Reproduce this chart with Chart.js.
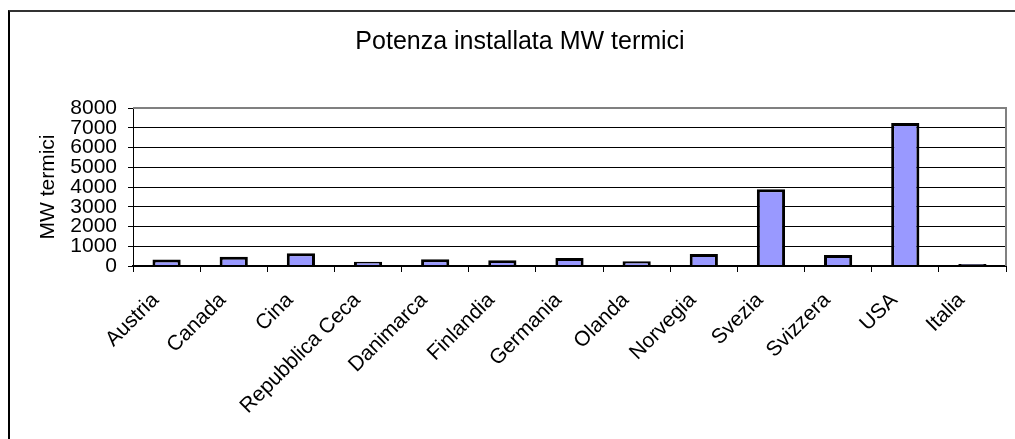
<!DOCTYPE html>
<html>
<head>
<meta charset="utf-8">
<script src="https://cdn.jsdelivr.net/npm/chart.js@4"></script>
<style>
    html, body { margin: 0; padding: 0; background: #fff; overflow: hidden; }
    #frame {
        position: absolute; left: 8px; top: 10px;
        width: 1200px; height: 600px;
        border-left: 2px solid #000; border-top: 2px solid #333;
    }
    #wrap { position: absolute; left: 0; top: 0; width: 1015px; height: 439px; }
</style>
</head>
<body>
<div id="frame"></div>
<div id="wrap"><canvas id="chart" width="1015" height="439"></canvas></div>
<script>
// Chart data
const chartTitle = 'Potenza installata MW termici';
const countries = ['Austria', 'Canada', 'Cina', 'Repubblica Ceca', 'Danimarca', 'Finlandia',
    'Germania', 'Olanda', 'Norvegia', 'Svezia', 'Svizzera', 'USA', 'Italia'];
const mwTermici = [330, 470, 650, 220, 340, 290, 410, 240, 610, 3880, 560, 7240, 60];
const yTicks = [0, 1000, 2000, 3000, 4000, 5000, 6000, 7000, 8000];

const FONT = 'Arial, "Liberation Sans", sans-serif';

// Gray frame on top and right of the plot area, plus the chart title
const plotFrame = {
    id: 'plotFrame',
    afterDraw(chart) {
        const { ctx, chartArea: a } = chart;
        ctx.save();
        ctx.strokeStyle = '#808080';
        ctx.lineWidth = 2;
        ctx.beginPath();
        ctx.moveTo(a.left, a.top);
        ctx.lineTo(a.right, a.top);
        ctx.lineTo(a.right, a.bottom);
        ctx.stroke();

        ctx.fillStyle = '#000';
        ctx.font = '25px ' + FONT;
        ctx.textAlign = 'center';
        ctx.textBaseline = 'middle';
        ctx.fillText(chartTitle, 520, 42);
        ctx.restore();
    }
};

new Chart(document.getElementById('chart'), {
    type: 'bar',
    data: {
        labels: countries,
        datasets: [{
            label: 'MW termici',
            data: mwTermici,
            backgroundColor: '#9999FF',
            borderColor: '#000',
            borderWidth: 3,
            borderSkipped: 'bottom',
            categoryPercentage: 1,
            barPercentage: 0.42,
            minBarLength: 2
        }]
    },
    options: {
        responsive: false,
        animation: false,
        layout: { padding: { left: 0, right: 9, top: 108, bottom: 0 } },
        plugins: {
            legend: { display: false },
            tooltip: { enabled: false },
            title: { display: false }
        },
        scales: {
            x: {
                afterFit(scale) { scale.height = 173; },
                grid: {
                    drawOnChartArea: false,
                    offset: true,
                    tickLength: 6,
                    color: '#000'
                },
                border: { color: '#000', width: 2, z: 1 },
                ticks: {
                    color: '#000',
                    font: { family: FONT, size: 21 },
                    maxRotation: 45,
                    minRotation: 45,
                    autoSkip: false,
                    padding: 16,
                    labelOffset: -11
                }
            },
            y: {
                min: 0,
                max: 8000,
                afterFit(scale) { scale.width = 133; },
                afterBuildTicks(scale) { scale.ticks = yTicks.map(v => ({ value: v })); },
                grid: { color: '#000', tickLength: 5 },
                border: { color: '#000', width: 1 },
                ticks: {
                    color: '#000',
                    font: { family: FONT, size: 21, lineHeight: 1 },
                    padding: 11,
                    autoSkip: false,
                    callback: v => String(v)
                },
                title: {
                    display: true,
                    text: 'MW termici',
                    color: '#000',
                    font: { family: FONT, size: 21 },
                    padding: 36
                }
            }
        }
    },
    plugins: [plotFrame]
});
</script>
</body>
</html>
